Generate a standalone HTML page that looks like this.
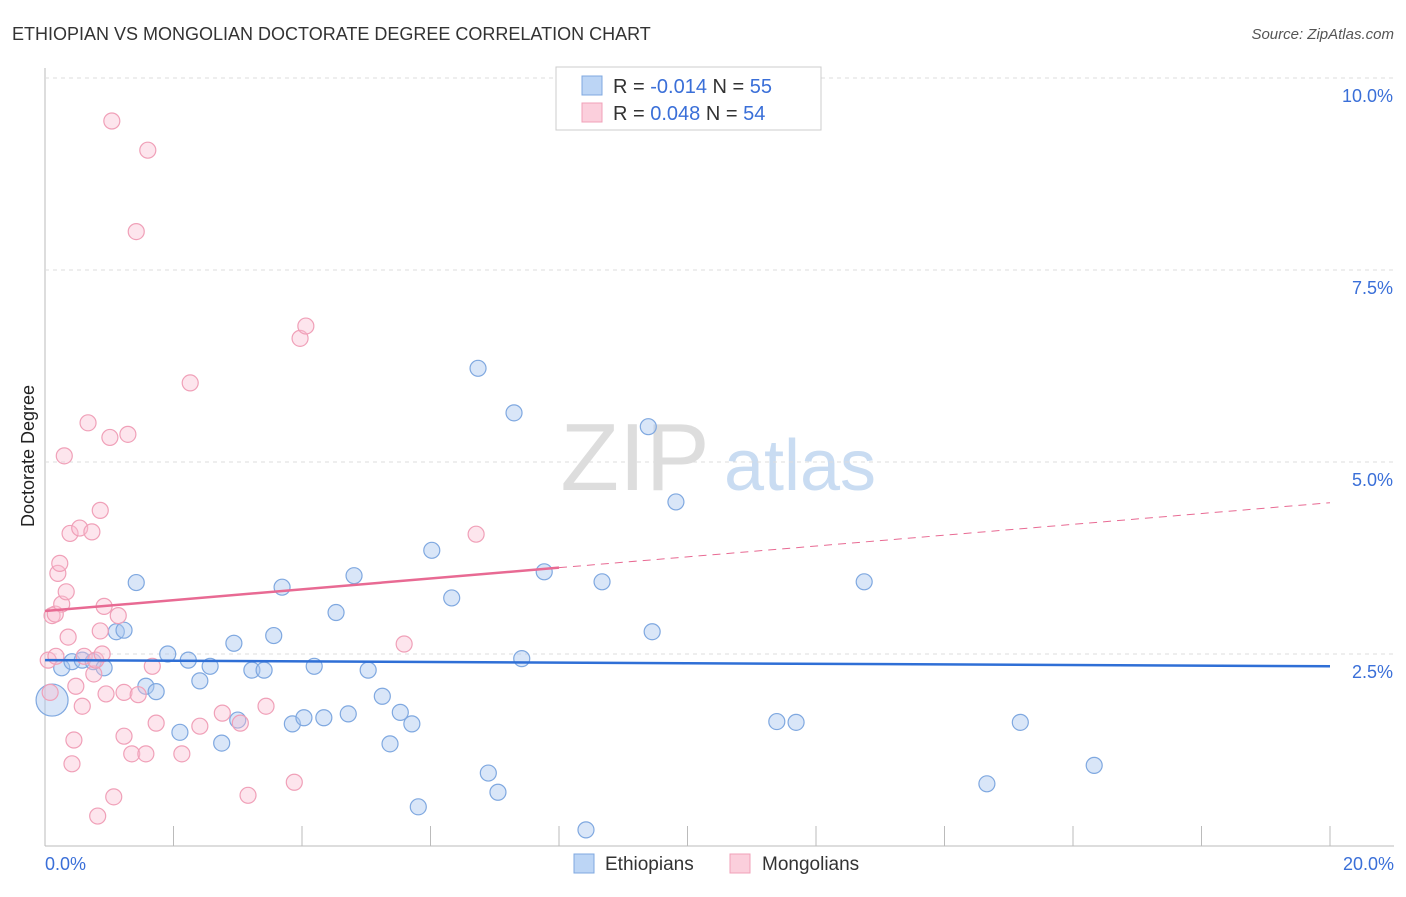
<!DOCTYPE html>
<html><head><meta charset="utf-8"><style>
body{margin:0;background:#fff;font-family:"Liberation Sans",sans-serif}
svg text{font-family:"Liberation Sans",sans-serif}
</style></head><body>
<svg id="c" width="1406" height="892">
<text x="12" y="40" font-size="18" fill="#333">ETHIOPIAN VS MONGOLIAN DOCTORATE DEGREE CORRELATION CHART</text>
<text x="1394" y="39" font-size="15" fill="#555" text-anchor="end" font-style="italic">Source: ZipAtlas.com</text>
<text x="34" y="456" font-size="18" fill="#222" text-anchor="middle" transform="rotate(-90 34 456)">Doctorate Degree</text>
<g><text x="635" y="490" font-size="96" fill="#ddd" text-anchor="middle" font-family="Liberation Serif">ZIP</text><text x="800" y="490" font-size="72" fill="#c9dcf2" text-anchor="middle">atlas</text></g>
<g id="grid"></g><g id="marks"></g>
<g>
<rect x="556" y="67" width="265" height="63" fill="#fff" stroke="#ccc"/>
<rect x="582" y="76" width="20" height="19" fill="#bcd5f5" stroke="#7fa8e0"/>
<rect x="582" y="103" width="20" height="19" fill="#fbcfdc" stroke="#f0a0b8"/>
<text x="613" y="93" font-size="20" fill="#333">R = <tspan fill="#3a6fd8">-0.014</tspan>   N = <tspan fill="#3a6fd8">55</tspan></text>
<text x="613" y="120" font-size="20" fill="#333">R =  <tspan fill="#3a6fd8">0.048</tspan>   N = <tspan fill="#3a6fd8">54</tspan></text>
</g>
<g>
<rect x="574" y="854" width="20" height="19" fill="#bcd5f5" stroke="#7fa8e0"/><text x="605" y="870" font-size="19" fill="#333">Ethiopians</text>
<rect x="730" y="854" width="20" height="19" fill="#fbcfdc" stroke="#f0a0b8"/><text x="762" y="870" font-size="19" fill="#333">Mongolians</text>
</g>
</svg>
<script>
const yTicks=[2.5,5.0,7.5,10.0];
const yTickLabels=["2.5%","5.0%","7.5%","10.0%"];
const xTickLabels=["0.0%","20.0%"];
const blueX=[0.11,0.26,0.42,0.58,0.75,0.92,1.11,1.23,1.42,1.57,1.73,1.91,2.1,2.23,2.41,2.57,2.75,2.94,3.0,3.22,3.41,3.56,3.69,3.85,4.03,4.19,4.34,4.53,4.72,4.81,5.03,5.25,5.37,5.53,5.71,5.81,6.02,6.33,6.74,6.9,7.05,7.3,7.42,7.77,8.42,8.67,9.39,9.45,9.82,11.39,11.69,12.75,14.66,15.18,16.33];
const blueY=[1.90,2.32,2.40,2.42,2.40,2.32,2.79,2.81,3.43,2.08,2.01,2.50,1.48,2.42,2.15,2.34,1.34,2.64,1.64,2.29,2.29,2.74,3.37,1.59,1.67,2.34,1.67,3.04,1.72,3.52,2.29,1.95,1.33,1.74,1.59,0.51,3.85,3.23,6.22,0.95,0.70,5.64,2.44,3.57,0.21,3.44,5.46,2.79,4.48,1.62,1.61,3.44,0.81,1.61,1.05];
const pinkX=[0.05,0.08,0.11,0.16,0.17,0.2,0.23,0.26,0.3,0.33,0.36,0.39,0.42,0.45,0.48,0.54,0.58,0.61,0.67,0.73,0.76,0.79,0.82,0.86,0.86,0.89,0.92,0.95,1.01,1.04,1.07,1.14,1.23,1.23,1.29,1.35,1.42,1.45,1.57,1.6,1.67,1.73,2.13,2.26,2.41,2.76,3.04,3.16,3.44,3.88,3.97,4.06,5.59,6.71];
const pinkY=[2.42,2.0,3.0,3.02,2.47,3.55,3.68,3.15,5.08,3.31,2.72,4.07,1.07,1.38,2.08,4.14,1.82,2.47,5.51,4.09,2.24,2.42,0.39,2.80,4.37,2.5,3.12,1.98,5.32,9.44,0.64,3.0,1.43,2.0,5.36,1.2,8.0,1.97,1.2,9.06,2.34,1.6,1.2,6.03,1.56,1.73,1.6,0.66,1.82,0.83,6.61,6.77,2.63,4.06];
const blueLine=[2.42,2.34];
const pinkLine=[3.06,4.47];
const X=v=>45+v*64.25, Y=v=>846-v*76.8;
const NS="http://www.w3.org/2000/svg";
const g=document.getElementById('grid'), m=document.getElementById('marks');
function mk(t,a,p){const e=document.createElementNS(NS,t);for(const k in a)e.setAttribute(k,a[k]);p.appendChild(e);return e;}
let ax=mk('line',{x1:45,y1:68,x2:45,y2:846,stroke:'#bbb'},g);


let bx=mk('line',{x1:45,y1:846,x2:1394,y2:846,stroke:'#bbb'},g);


yTicks.forEach((t,i)=>{
 let l=mk('line',{x1:45,x2:1394,y1:Y(t),y2:Y(t),stroke:'#ddd','stroke-dasharray':'4,4'},g);
 
 
 let tx=mk('text',{x:1393,y:Y(t)+24,'font-size':18,fill:'#3a6fd8','text-anchor':'end'},g);tx.textContent=yTickLabels[i];
 
 
});
for(let i=1;i<=10;i++){let l=mk('line',{x1:X(i*2),x2:X(i*2),y1:826,y2:846,stroke:'#bbb'},g);
 
 }
xTickLabels.forEach((s,i)=>{let tx=mk('text',{x:i?1394:45,y:870,'font-size':18,fill:'#3a6fd8','text-anchor':i?'end':'start'},g);tx.textContent=s;
 
 });
blueX.forEach((x,i)=>{let c=mk('circle',{cx:X(x),cy:Y(blueY[i]),r:i==0?16:8,fill:'rgba(170,200,240,0.45)',stroke:'#7fa8e0','stroke-width':1.2},m);
 
 });
pinkX.forEach((x,i)=>{let c=mk('circle',{cx:X(x),cy:Y(pinkY[i]),r:8,fill:'rgba(250,190,210,0.4)',stroke:'#f0a0b8','stroke-width':1.2},m);
 
 });
let bl=mk('line',{x1:X(0),y1:Y(blueLine[0]),x2:X(20),y2:Y(blueLine[1]),stroke:'#2f6fd6','stroke-width':2.5},m);


const pAt=x=>pinkLine[0]+(pinkLine[1]-pinkLine[0])*x/20;
let pl=mk('line',{x1:X(0),y1:Y(pAt(0)),x2:X(8),y2:Y(pAt(8)),stroke:'#e86a93','stroke-width':2.5},m);


let pd=mk('line',{x1:X(8),y1:Y(pAt(8)),x2:X(20),y2:Y(pAt(20)),stroke:'#e86a93','stroke-width':1,'stroke-dasharray':'8,6'},m);


</script>
</body></html>
